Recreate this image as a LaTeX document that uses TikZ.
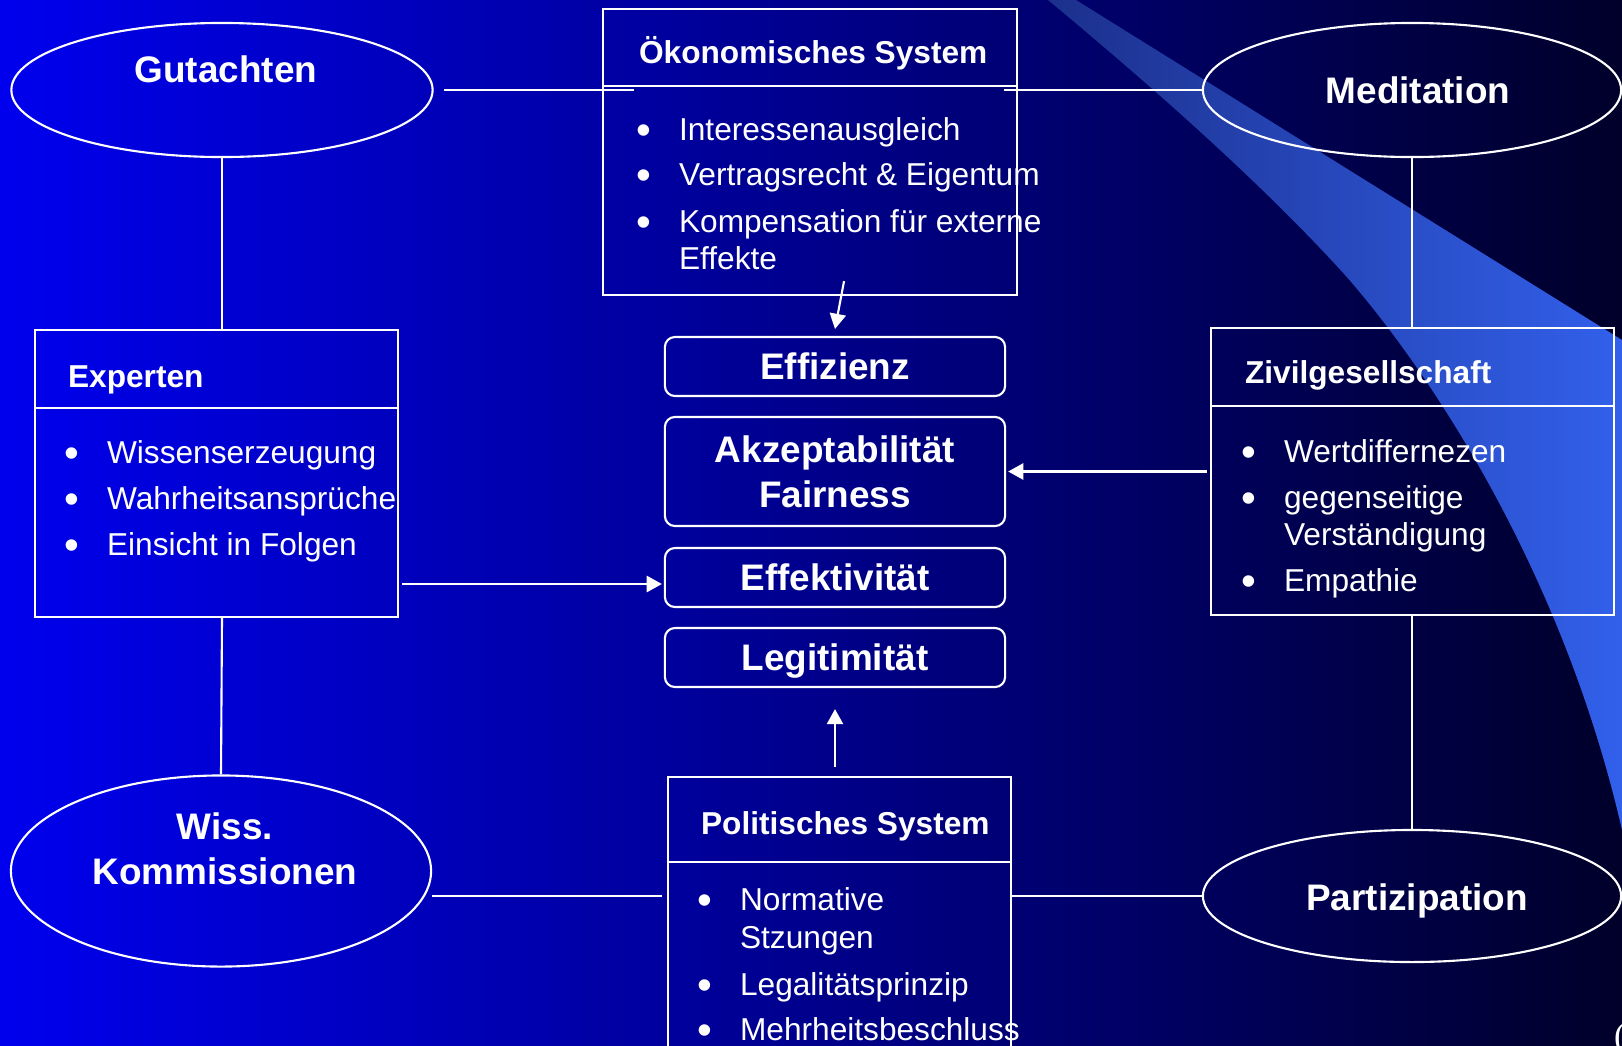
\documentclass[tikz,border=0pt]{standalone}
\usepackage{fontspec}
\setmainfont{Liberation Sans}
\newfontfamily\parenfont{Liberation Serif}
\usetikzlibrary{shapes.geometric,arrows.meta}
\definecolor{bgleft}{RGB}{0,0,238}
\definecolor{bgmid}{RGB}{0,0,195}
\definecolor{bgright}{RGB}{0,0,42}
\definecolor{swooshdark}{RGB}{28,48,140}
\definecolor{swooshlight}{RGB}{50,96,235}
\newcommand{\bul}{\makebox[0pt][r]{\raisebox{-1.4pt}{\fontsize{12}{12}\selectfont\textbullet}\hspace{7.9pt}}}

\begin{document}
\begin{tikzpicture}[x=0.01cm, y=-0.01cm, line width=0.6pt,
    link/.style={draw=white},
    arr/.style={draw=white, -{Triangle[length=4.3pt, width=4.6pt]}},
    oval/.style={ellipse, draw=white, inner sep=0},
    ovaltext/.style={text=white, font=\fontsize{10.5}{12.8}\selectfont\bfseries, align=center, inner sep=0},
    sysbox/.style={rectangle, draw=white, inner sep=0},
    boxtitle/.style={anchor=base west, text=white, font=\fontsize{9}{11}\selectfont\bfseries, inner sep=0},
    bulline/.style={anchor=base west, text=white, font=\fontsize{9}{10.5}\selectfont, inner sep=0},
    critbox/.style={rectangle, rounded corners=0.1cm, draw=white, minimum width=3.4cm, minimum height=0.59cm,
        text=white, font=\fontsize{10.5}{12.8}\selectfont\bfseries, align=center}]
    \useasboundingbox (0,0) rectangle (1622,1045);
    \clip (0,0) rectangle (1622,1045);
    % Hintergrund
    \shade[left color=bgleft, middle color=bgmid, right color=bgright] (0,0) rectangle (1622,1045);
    \shade[left color=swooshdark, right color=swooshlight]
        (1048,0) -- (1076,0) -- (1622,340) -- (1622,830)
        .. controls (1560,560) and (1420,360) .. (1345,275)
        .. controls (1250,170) and (1120,60) .. (1048,0) -- cycle;

    % Methoden
    \node[oval, minimum width=4.21cm, minimum height=1.34cm] (gut) at (222,90) {};
    \node[ovaltext, anchor=base] (gut_label) at (226,82) {Gutachten};
    \node[oval, minimum width=4.18cm, minimum height=1.34cm] (med) at (1412,90) {};
    \node[ovaltext, anchor=base] (med_label) at (1418,103) {Meditation};
    \node[oval, minimum width=4.20cm, minimum height=1.91cm] (wiss) at (221,871) {};
    \node[ovaltext] (wiss_label) at (225,849) {Wiss.\\Kommissionen};
    \node[oval, minimum width=4.18cm, minimum height=1.32cm] (par) at (1412,896) {};
    \node[ovaltext, anchor=base] (par_label) at (1417,910) {Partizipation};

    % Systeme
    \node[sysbox, minimum width=4.14cm, minimum height=2.86cm] (oek) at (810,152) {};
    \draw[link] (oek.west |- 0,86) -- (oek.east |- 0,86);
    \node[boxtitle] (oek_title) at (638,63) {Ökonomisches System};
    \node[bulline] (oek_1) at (678,140) {\bul Interessenausgleich};
    \node[bulline] (oek_2) at (678,185) {\bul Vertragsrecht \& Eigentum};
    \node[bulline] (oek_3) at (678,232) {\bul Kompensation für externe};
    \node[bulline] (oek_4) at (678,269) {Effekte};

    \node[sysbox, minimum width=3.63cm, minimum height=2.87cm] (exp) at (216.5,473.5) {};
    \draw[link] (exp.west |- 0,408) -- (exp.east |- 0,408);
    \node[boxtitle] (exp_title) at (67,387) {Experten};
    \node[bulline] (exp_1) at (106,463) {\bul Wissenserzeugung};
    \node[bulline] (exp_2) at (106,509) {\bul Wahrheitsansprüche};
    \node[bulline] (exp_3) at (106,555) {\bul Einsicht in Folgen};

    \node[sysbox, minimum width=4.03cm, minimum height=2.87cm] (ziv) at (1412.5,471.5) {};
    \draw[link] (ziv.west |- 0,406) -- (ziv.east |- 0,406);
    \node[boxtitle] (ziv_title) at (1244,383) {Zivilgesellschaft};
    \node[bulline] (ziv_1) at (1283,462) {\bul Wertdiffernezen};
    \node[bulline] (ziv_2) at (1283,508) {\bul gegenseitige};
    \node[bulline] (ziv_3) at (1283,545) {Verständigung};
    \node[bulline] (ziv_4) at (1283,591) {\bul Empathie};

    \node[sysbox, minimum width=3.43cm, minimum height=2.83cm] (pol) at (839.5,918.5) {};
    \draw[link] (pol.west |- 0,862) -- (pol.east |- 0,862);
    \node[boxtitle] (pol_title) at (700,834) {Politisches System};
    \node[bulline] (pol_1) at (739,910) {\bul Normative};
    \node[bulline] (pol_2) at (739,948) {Stzungen};
    \node[bulline] (pol_3) at (739,995) {\bul Legalitätsprinzip};
    \node[bulline] (pol_4) at (739,1040) {\bul Mehrheitsbeschluss};

    % Kriterien
    \node[critbox, text height=7.6pt, text depth=0pt] (eff) at (835,366.5) {Effizienz};
    \node[critbox, minimum height=1.09cm] (akz) at (835,471.5) {Akzeptabilität\\Fairness};
    \node[critbox, text height=7.6pt, text depth=0pt] (effk) at (835,577.5) {Effektivität};
    \node[critbox, text height=7.6pt, text depth=0pt] (leg) at (835,657.5) {Legitimität};

    % Verbindungen
    \draw[link] ([xshift=0.1cm]gut.east) -- ([xshift=0.32cm]oek.west |- gut.east);
    \draw[link] ([xshift=-0.14cm]oek.east |- med.west) -- (med.west);
    \draw[link] (gut.south) -- (gut.south |- exp.north);
    \draw[link] (gut.south |- exp.south) -- (wiss.north);
    \draw[link] (med.south) -- (med.south |- ziv.north);
    \draw[link] (med.south |- ziv.south) -- (par.north);
    \draw[link] (wiss.east |- par.west) -- ([xshift=-0.05cm]pol.west |- par.west);
    \draw[link] (pol.east |- par.west) -- (par.west);

    \draw[arr] ([xshift=0.34cm, yshift=0.15cm]oek.south) -- ([yshift=0.07cm]eff.north);
    \coordinate (effin) at ([shift={(-0.02cm,-0.065cm)}]effk.west);
    \draw[arr] ([xshift=0.03cm]exp.east |- effin) -- (effin);
    \draw[arr] ([xshift=-0.03cm]ziv.west |- akz.east) -- ([xshift=0.02cm]akz.east);
    \draw[arr] ([yshift=0.09cm]leg.south |- pol.north) -- ([yshift=-0.21cm]leg.south);

    \node[anchor=base west, text=white, font=\parenfont\fontsize{10}{12}\selectfont, inner sep=0] (paren) at (1613,1047) {(};
\end{tikzpicture}
\end{document}
